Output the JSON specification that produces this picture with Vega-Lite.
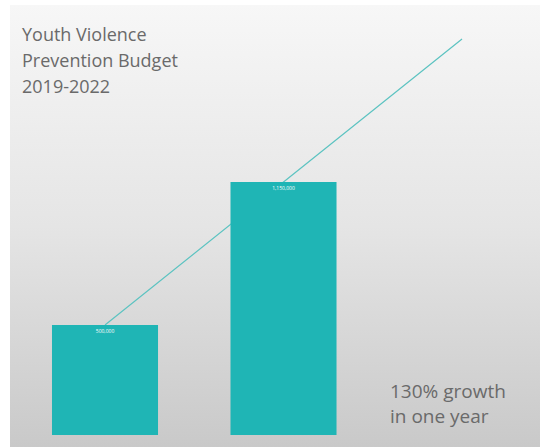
{
  "$schema": "https://vega.github.io/schema/vega-lite/v6.json",
  "width": 540,
  "height": 447,
  "autosize": {"type": "fit", "contains": "padding"},
  "padding": {"left": 10, "top": 5, "right": 0, "bottom": 0},
  "background": "#ffffff",
  "config": {
    "view": {
      "stroke": null,
      "fill": {"gradient": "linear", "x1": 0, "y1": 0, "x2": 0, "y2": 1,
        "stops": [{"offset": 0, "color": "#f7f7f7"}, {"offset": 0.5, "color": "#e5e5e5"}, {"offset": 1, "color": "#c9c9c9"}]}
    }
  },
  "title": {
    "text": ["Youth Violence", "Prevention Budget", "2019-2022"],
    "orient": "top",
    "anchor": "start",
    "frame": "group",
    "offset": -92,
    "dx": 12,
    "font": "Open Sans",
    "fontSize": 18,
    "fontWeight": "normal",
    "color": "#6a6a6a",
    "lineHeight": 26
  },
  "data": {
    "values": [
      {"period": "2021", "budget": 500000, "label": "500,000", "trend": 500000},
      {"period": "2022", "budget": 1150000, "label": "1,150,000", "trend": 1150000},
      {"period": "Trend", "budget": null, "label": null, "trend": 1800000}
    ]
  },
  "encoding": {
    "x": {
      "field": "period",
      "type": "nominal",
      "axis": null,
      "sort": null,
      "scale": {"paddingInner": 0.406, "paddingOuter": 0.1876, "align": 0.627}
    }
  },
  "layer": [
    {
      "mark": {"type": "line", "color": "#5cc3c1", "strokeWidth": 1.2},
      "encoding": {
        "y": {"field": "trend", "type": "quantitative", "axis": null,
          "scale": {"domain": [-54545, 1954545], "nice": false, "zero": false}}
      }
    },
    {
      "transform": [{"filter": "datum.budget != null"}],
      "mark": {"type": "bar", "color": "#1fb5b5"},
      "encoding": {
        "y": {"field": "budget", "type": "quantitative"}
      }
    },
    {
      "transform": [{"filter": "datum.budget != null"}],
      "mark": {"type": "text", "color": "#ffffff", "fontSize": 5, "baseline": "top", "dy": 4, "font": "Open Sans"},
      "encoding": {
        "y": {"field": "budget", "type": "quantitative"},
        "text": {"field": "label"}
      }
    },
    {
      "data": {"values": [{"note": ["130% growth", "in one year"]}]},
      "mark": {"type": "text", "font": "Open Sans", "fontSize": 19, "color": "#6a6a6a", "align": "left", "dx": -72, "baseline": "alphabetic", "lineHeight": 25},
      "encoding": {
        "x": {"datum": "Trend"},
        "y": {"datum": 168000},
        "text": {"field": "note"}
      }
    }
  ]
}
